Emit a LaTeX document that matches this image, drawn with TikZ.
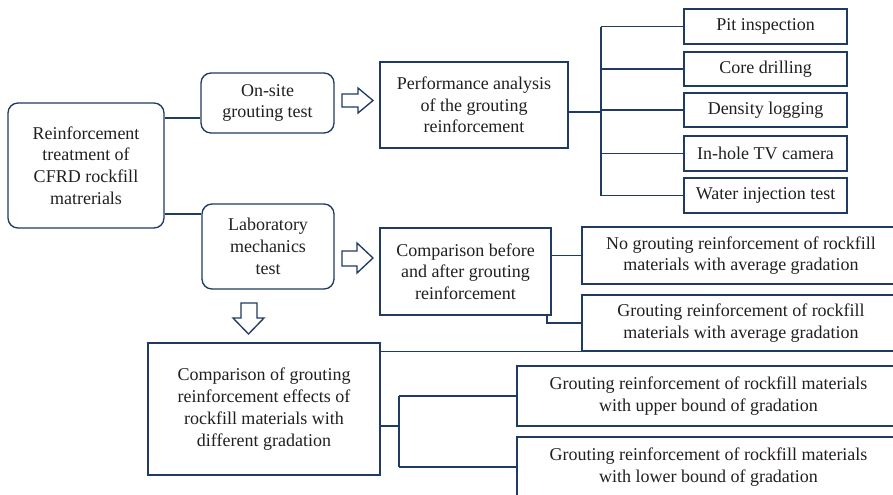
\documentclass[tikz,border=0pt]{standalone}
\usepackage{fontspec}
\setmainfont{Liberation Serif}
\definecolor{navy}{HTML}{1F3A63}
\definecolor{txt}{HTML}{231F20}
\begin{document}
\begin{tikzpicture}[x=0.75pt,y=-0.75pt,
 box/.style={draw=navy, line width=1pt, text=txt, align=center, inner sep=0pt, font=\fontsize{13.5}{16.3}\selectfont},
 rbox/.style={box, rounded corners=7.5pt},
 sz/.style 2 args={minimum width=#1*0.75pt, minimum height=#2*0.75pt},
 link/.style={draw=navy, line width=1pt},
 hollow/.style={draw=navy, line width=1pt, fill=white, line join=miter}]
\useasboundingbox (0,0) rectangle (893,494);
\clip (0,0) rectangle (893,494);
\fill[white] (0,0) rectangle (893,494);

\node[rbox, sz={156}{125}] (root) at (86,165.5) {Reinforcement\\treatment of\\CFRD rockfill\\matrerials};
\node[rbox, sz={133}{60}] (onsite) at (267.5,103) {On-site\\grouting test};
\node[rbox, sz={132}{85}] (lab) at (268,246.5) {Laboratory\\mechanics\\test};
\node[box, sz={188}{86}] (perf) at (474,105) {Performance analysis\\of the grouting\\reinforcement};
\node[box, sz={163}{35}] (pit) at (765.5,26.5) {Pit inspection};
\node[box, sz={163}{34}] (core) at (765.5,69) {Core drilling};
\node[box, sz={163}{34}] (dens) at (765.5,110) {Density logging};
\node[box, sz={163}{35}] (tv) at (765.5,153.5) {In-hole TV camera};
\node[box, sz={163}{35}] (water) at (765.5,195.5) {Water injection test};
\node[box, sz={171}{87}] (cmpb) at (465.5,271.5) {Comparison before\\and after grouting\\reinforcement};
\node[box, sz={318}{57}] (nog) at (741,255.5) {No grouting reinforcement of rockfill\\materials with average gradation};
\node[box, sz={318}{56}] (gavg) at (741,323) {Grouting reinforcement of rockfill\\materials with average gradation};
\node[box, sz={232}{132}] (cmpg) at (264,409) {Comparison of grouting\\reinforcement effects of\\rockfill materials with\\different gradation};
\node[box, sz={383}{60}] (upper) at (708.5,396) {Grouting reinforcement of rockfill materials\\with upper bound of gradation};
\node[box, sz={383}{60}] (lower) at (708.5,467) {Grouting reinforcement of rockfill materials\\with lower bound of gradation};

\coordinate (j1) at (0,118);
\coordinate (j2) at (0,214);
\draw[link] (root.east |- j1) -- (onsite.west |- j1);
\draw[link] (root.east |- j2) -- (lab.west |- j2);

\coordinate (t1) at (601,112);
\draw[link] (perf.east |- t1) -- (t1);
\draw[link] (pit.west -| t1) -- (water.west -| t1);
\foreach \n in {pit,core,dens,tv,water} \draw[link] (\n.west -| t1) -- (\n.west);

\draw[link] (cmpb.east |- nog.west) -- (nog.west);
\coordinate (j3) at (547,0);
\draw[link] (cmpb.south -| j3) |- (gavg.west);
\draw[link] (cmpg.east |- gavg.south west) -- (gavg.south west);

\coordinate (t2) at (399,426);
\draw[link] (cmpg.east |- t2) -- (t2);
\draw[link] (upper.west -| t2) -- (lower.west -| t2);
\draw[link] (upper.west -| t2) -- (upper.west);
\draw[link] (lower.west -| t2) -- (lower.west);

% hollow arrows
\draw[hollow] (342,94) -- (358,94) -- (358,88) -- (373,100.5) -- (358,113) -- (358,107) -- (342,107) -- cycle;
\draw[hollow] (342,251) -- (357,251) -- (357,243) -- (373,258) -- (357,273) -- (357,266) -- (342,266) -- cycle;
\draw[hollow] (241,303) -- (257,303) -- (257,318) -- (264,318) -- (248.5,334) -- (233,318) -- (241,318) -- cycle;
\end{tikzpicture}
\end{document}
